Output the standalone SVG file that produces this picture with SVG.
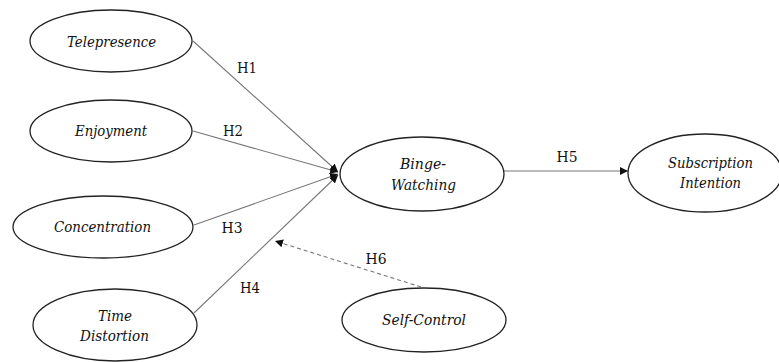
<svg xmlns="http://www.w3.org/2000/svg" width="779" height="362" viewBox="0 0 779 362">
<style>
text{font-family:'DejaVu Serif',serif;fill:#111;text-anchor:middle}
.node ellipse{fill:#fff;stroke:#222;stroke-width:1.3}
.node text{font-style:italic;font-size:15.5px}
.edge{stroke:#777;stroke-width:1.1;fill:none}
.dash{stroke-dasharray:4 3}
.lbl{font-size:14.5px}
</style>
<defs>
<marker id="ah" viewBox="0 0 10 10" refX="10" refY="5" markerWidth="8" markerHeight="8" markerUnits="userSpaceOnUse" orient="auto">
<path d="M0,0 L10,5 L0,10 z" fill="#111"/>
</marker>
</defs>
<g id="connectors">
<line class="edge" x1="193" y1="41" x2="338" y2="172" marker-end="url(#ah)"/>
<line class="edge" x1="193" y1="131" x2="338" y2="172" marker-end="url(#ah)"/>
<line class="edge" x1="194" y1="225" x2="338" y2="174" marker-end="url(#ah)"/>
<line class="edge" x1="194" y1="313" x2="338" y2="175" marker-end="url(#ah)"/>
<line class="edge" x1="504" y1="171" x2="628" y2="171" marker-end="url(#ah)"/>
<line class="edge dash" x1="421" y1="287" x2="275" y2="241" marker-end="url(#ah)"/>
<text class="lbl" x="247" y="73" textLength="20" lengthAdjust="spacingAndGlyphs">H1</text>
<text class="lbl" x="233" y="136" textLength="20" lengthAdjust="spacingAndGlyphs">H2</text>
<text class="lbl" x="232" y="233" textLength="21" lengthAdjust="spacingAndGlyphs">H3</text>
<text class="lbl" x="250" y="293" textLength="20" lengthAdjust="spacingAndGlyphs">H4</text>
<text class="lbl" x="567" y="162" textLength="21" lengthAdjust="spacingAndGlyphs">H5</text>
<text class="lbl" x="376" y="264" textLength="21" lengthAdjust="spacingAndGlyphs">H6</text>
</g>
<g id="telepresence" class="node"><ellipse cx="111" cy="41" rx="81" ry="31"/><text x="111.5" y="47" textLength="89" lengthAdjust="spacingAndGlyphs">Telepresence</text></g>
<g id="enjoyment" class="node"><ellipse cx="111" cy="131" rx="81" ry="31"/><text x="111" y="136" textLength="72" lengthAdjust="spacingAndGlyphs">Enjoyment</text></g>
<g id="concentration" class="node"><ellipse cx="103" cy="227" rx="90" ry="31"/><text x="102.5" y="232" textLength="97" lengthAdjust="spacingAndGlyphs">Concentration</text></g>
<g id="time-distortion" class="node"><ellipse cx="115" cy="325" rx="82" ry="36"/><text x="115" y="321" textLength="34" lengthAdjust="spacingAndGlyphs">Time</text><text x="114.5" y="341" textLength="69" lengthAdjust="spacingAndGlyphs">Distortion</text></g>
<g id="binge-watching" class="node"><ellipse cx="422" cy="174" rx="82" ry="37"/><text x="423" y="169" textLength="46" lengthAdjust="spacingAndGlyphs">Binge-</text><text x="423.5" y="190" textLength="65" lengthAdjust="spacingAndGlyphs">Watching</text></g>
<g id="subscription-intention" class="node"><ellipse cx="705" cy="173" rx="77" ry="39"/><text x="710.5" y="168" textLength="85" lengthAdjust="spacingAndGlyphs">Subscription</text><text x="710.5" y="188" textLength="61" lengthAdjust="spacingAndGlyphs">Intention</text></g>
<g id="self-control" class="node"><ellipse cx="424" cy="320" rx="82" ry="32"/><text x="424" y="325" textLength="84" lengthAdjust="spacingAndGlyphs">Self-Control</text></g>
</svg>
